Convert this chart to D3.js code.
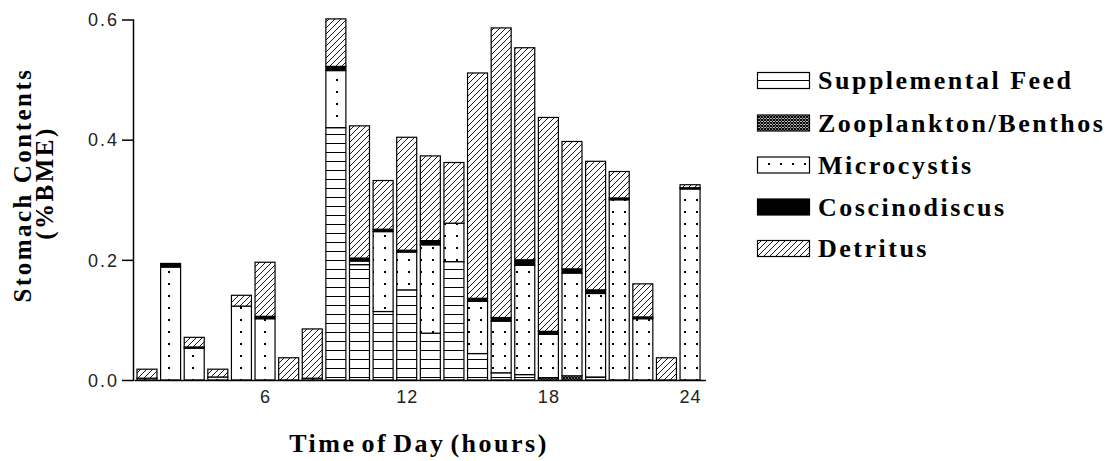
<!DOCTYPE html>
<html><head><meta charset="utf-8">
<script src="https://cdn.jsdelivr.net/npm/d3@7"></script>
<style>body{margin:0;background:#fff}svg{display:block}</style>
</head><body>
<svg id="chart" width="1112" height="461"></svg>
<script>
const hours = d3.range(1, 25);
const supplementalFeed = [0,0,0,0,0,0,0,0,0.420,0.192,0.114,0.150,0.078,0.197,0.044,0.012,0.009,0,0,0.005,0,0,0,0];
const zooplanktonBenthos = [0,0,0,0,0,0,0,0,0,0,0,0,0,0,0,0,0,0.004,0.007,0,0,0,0,0];
const microcystis = [0.003,0.188,0.053,0.005,0.123,0.102,0,0.003,0.095,0.006,0.133,0.063,0.147,0.064,0.087,0.086,0.182,0.072,0.171,0.139,0.300,0.102,0,0.318];
const coscinodiscus = [0,0.006,0.002,0,0,0.004,0,0,0.007,0.005,0.004,0.003,0.007,0,0.005,0.006,0.009,0.005,0.007,0.006,0.003,0.003,0,0.002];
const detritus = [0.015,0,0.016,0.013,0.018,0.090,0.037,0.082,0.079,0.220,0.081,0.188,0.141,0.101,0.375,0.482,0.353,0.356,0.212,0.214,0.044,0.055,0.037,0.005];
const seriesNames = ["Supplemental Feed","Zooplankton/Benthos","Microcystis","Coscinodiscus","Detritus"];
const xTicks = [6, 12, 18, 24];
const yTicks = [0, 0.2, 0.4, 0.6];

const svg = d3.select("#chart");
const defs = svg.append("defs");
const pSF = defs.append("pattern").attr("id","pSF").attr("patternUnits","userSpaceOnUse").attr("width",9).attr("height",9);
pSF.append("rect").attr("width",9).attr("height",9).attr("fill","#fff");
pSF.append("rect").attr("x",0).attr("y",8).attr("width",9).attr("height",1).attr("fill","#000");
const pZ = defs.append("pattern").attr("id","pZ").attr("patternUnits","userSpaceOnUse").attr("width",3).attr("height",3);
pZ.append("rect").attr("width",3).attr("height",3).attr("fill","#fff");
pZ.append("path").attr("d","M0,0L3,3M3,0L0,3").attr("stroke","#000").attr("stroke-width",1.1);
const pM = defs.append("pattern").attr("id","pM").attr("patternUnits","userSpaceOnUse").attr("width",12).attr("height",12);
pM.append("rect").attr("width",12).attr("height",12).attr("fill","#fff");
pM.append("rect").attr("x",0).attr("y",7).attr("width",2).attr("height",2).attr("fill","#000");
const pD = defs.append("pattern").attr("id","pD").attr("patternUnits","userSpaceOnUse").attr("width",6).attr("height",6);
pD.append("rect").attr("width",6).attr("height",6).attr("fill","#fff");
pD.append("path").attr("d","M-1,7L7,-1M-1,1L1,-1M5,7L7,5").attr("stroke","#000").attr("stroke-width",0.9);
const fills = ["url(#pSF)","url(#pZ)","url(#pM)","#000","url(#pD)"];

const x = d3.scaleLinear().domain([0.45, 24.65]).range([134, 705.4]);
const y = d3.scaleLinear().domain([0, 0.6]).range([380, 19.5]);
const barW = 20;

const table = hours.map((h,i)=>({hour:h, s0:supplementalFeed[i], s1:zooplanktonBenthos[i], s2:microcystis[i], s3:coscinodiscus[i], s4:detritus[i]}));
const stack = d3.stack().keys(["s0","s1","s2","s3","s4"]);
const layers = stack(table);

const g = svg.append("g");
layers.forEach((layer, li) => {
  g.selectAll(null).data(layer.filter(d => d[1] - d[0] > 0)).enter().append("rect")
    .attr("x", d => x(d.data.hour) - barW/2)
    .attr("width", barW)
    .attr("y", d => y(d[1]))
    .attr("height", d => y(d[0]) - y(d[1]))
    .attr("fill", fills[li])
    .attr("stroke", "#000").attr("stroke-width", 1.2);
});

const yAxis = d3.axisLeft(y).tickValues(yTicks).tickFormat(d3.format(".1f")).tickSize(12).tickPadding(3);
const ya = svg.append("g").attr("transform","translate(134,0)").call(yAxis);
ya.select(".domain").attr("d","M-0.5,"+y(0.6)+"V"+y(0)).attr("stroke","#000").attr("stroke-width",1.5);
ya.selectAll(".tick line").attr("stroke","#000").attr("stroke-width",1.5);
ya.selectAll("text").attr("font-family","Liberation Sans, Arial, sans-serif").attr("font-size",18).attr("fill","#222").attr("letter-spacing","2px").attr("dy","0.35em");

const xAxis = d3.axisBottom(x).tickValues(xTicks).tickSize(0).tickPadding(10);
const xa = svg.append("g").attr("transform","translate(0,380)").call(xAxis);
xa.select(".domain").attr("stroke","#000").attr("stroke-width",1.5);
xa.selectAll("text").attr("font-family","Liberation Sans, Arial, sans-serif").attr("font-size",18).attr("fill","#222").attr("letter-spacing","1px").attr("dy","0.72em");

const serif = "Liberation Serif, Times New Roman, serif";
svg.append("text").attr("x",419).attr("y",451.5).attr("text-anchor","middle")
  .attr("font-family",serif).attr("font-weight","bold").attr("font-size",26).attr("letter-spacing","2.5px").attr("word-spacing","-4px")
  .text("Time of Day (hours)");
svg.append("text").attr("transform","translate(31,185) rotate(-90)").attr("text-anchor","middle")
  .attr("font-family",serif).attr("font-weight","bold").attr("font-size",25).attr("letter-spacing","2.5px")
  .text("Stomach Contents");
svg.append("text").attr("transform","translate(53,183) rotate(-90)").attr("text-anchor","middle")
  .attr("font-family",serif).attr("font-weight","bold").attr("font-size",25).attr("letter-spacing","2.5px")
  .text("(%BME)");

const lg = svg.append("g");
const rowY = [89, 131.5, 173.5, 215.5, 257];
seriesNames.forEach((name, i) => {
  lg.append("rect").attr("x",757.5).attr("y",rowY[i]-16.5).attr("width",52).attr("height",16)
    .attr("fill",fills[i]).attr("stroke","#000").attr("stroke-width",1.2);
  lg.append("text").attr("x",818).attr("y",rowY[i])
    .attr("font-family",serif).attr("font-weight","bold").attr("font-size",26).attr("letter-spacing","2.5px")
    .text(name);
});
</script>
</body></html>
